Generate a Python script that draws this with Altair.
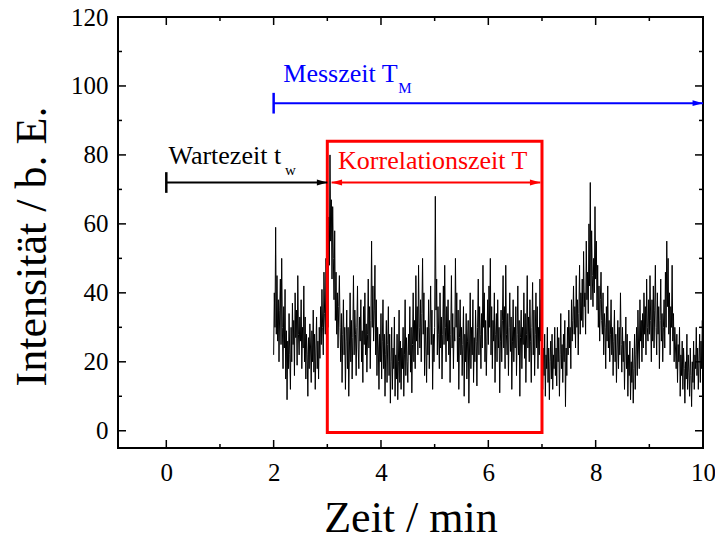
import altair as alt
import pandas as pd

# Intensity trace, sampled every 0.0125 min from 2 min to 10 min
intensity = [
    # 2.0 - 3.0 min
    22, 40, 30, 59, 28, 45, 26, 38, 20, 35,
    44, 25, 50, 30, 18, 36, 24, 41, 15, 29,
    9, 26, 18, 34, 22, 12, 30, 20, 37, 25,
    32, 16, 40, 27, 35, 19, 45, 28, 22, 33,
    26, 38, 18, 30, 24, 42, 20, 33, 15, 28,
    22, 10, 27, 18, 31, 24, 14, 29, 20, 35,
    17, 28, 12, 24, 33, 18, 26, 15, 30, 21,
    36, 25, 41, 30, 22, 46, 34, 28, 50, 38,
    # 3.0 - 4.0 min
    45, 30, 62, 48, 80, 55, 67, 44, 65, 50,
    38, 58, 32, 46, 28, 40, 24, 36, 45, 30,
    20, 34, 14, 28, 38, 22, 30, 12, 26, 35,
    18, 30, 10, 24, 40, 20, 32, 15, 27, 45,
    22, 35, 28, 16, 30, 42, 24, 18, 33, 26,
    38, 20, 29, 14, 36, 25, 40, 22, 31, 17,
    28, 44, 24, 36, 18, 32, 55, 30, 42, 26,
    35, 48, 22, 38, 16, 30, 24, 12, 28, 20,
    # 4.0 - 5.0 min
    34, 15, 26, 38, 18, 28, 10, 22, 32, 14,
    25, 36, 16, 28, 8, 20, 30, 12, 24, 18,
    33, 10, 22, 15, 28, 9, 20, 35, 14, 26,
    12, 24, 18, 30, 10, 22, 38, 16, 27, 20,
    14, 28, 22, 36, 17, 30, 11, 25, 40, 20,
    32, 18, 45, 26, 36, 22, 48, 30, 24, 38,
    20, 34, 50, 28, 40, 16, 32, 24, 14, 30,
    22, 38, 18, 30, 42, 25, 35, 12, 28, 20,
    # 5.0 - 6.0 min
    30, 68, 35, 44, 22, 36, 28, 18, 40, 24,
    33, 15, 28, 42, 25, 48, 30, 20, 36, 26,
    38, 22, 32, 14, 28, 45, 24, 34, 18, 30,
    26, 50, 30, 40, 20, 35, 12, 27, 38, 22,
    30, 16, 25, 36, 10, 28, 20, 34, 15, 26,
    32, 8, 24, 40, 18, 30, 22, 38, 14, 27,
    20, 35, 26, 13, 30, 44, 22, 36, 28, 18,
    34, 24, 48, 30, 40, 20, 32, 16, 26, 38,
    # 6.0 - 7.0 min
    25, 42, 30, 50, 22, 36, 18, 32, 26, 40,
    14, 28, 34, 20, 38, 24, 30, 11, 26, 35,
    20, 32, 45, 24, 36, 18, 48, 28, 22, 34,
    16, 30, 40, 23, 33, 12, 26, 38, 20, 30,
    24, 36, 16, 28, 42, 22, 32, 10, 27, 35,
    18, 30, 25, 40, 21, 34, 14, 28, 45, 24,
    33, 20, 38, 26, 14, 30, 43, 22, 35, 16,
    28, 40, 24, 36, 18, 30, 22, 44, 26, 38,
    # 7.0 - 8.0 min
    20, 12, 24, 16, 28, 10, 22, 18, 30, 14,
    24, 9, 20, 26, 15, 28, 12, 22, 18, 30,
    16, 24, 13, 30, 20, 27, 10, 22, 34, 18,
    25, 14, 28, 20, 32, 7, 24, 16, 30, 22,
    35, 24, 30, 18, 38, 26, 32, 42, 28, 36,
    24, 45, 30, 38, 22, 34, 48, 28, 40, 32,
    44, 30, 52, 36, 40, 28, 55, 38, 46, 34,
    60, 42, 72, 38, 58, 45, 36, 50, 40, 65,
    # 8.0 - 9.0 min
    44, 55, 35, 48, 30, 42, 26, 38, 46, 32,
    28, 40, 22, 34, 30, 18, 36, 26, 42, 24,
    32, 20, 28, 38, 22, 30, 16, 26, 35, 20,
    28, 14, 24, 32, 18, 30, 22, 40, 25, 17,
    30, 20, 26, 12, 24, 33, 18, 28, 10, 22,
    16, 26, 9, 20, 14, 24, 8, 18, 28, 12,
    22, 30, 16, 35, 24, 18, 38, 26, 32, 20,
    34, 24, 40, 28, 36, 22, 44, 30, 26, 38,
    # 9.0 - 10.0 min
    28, 45, 32, 20, 38, 26, 42, 24, 35, 48,
    30, 22, 40, 28, 36, 18, 32, 44, 26, 34,
    20, 30, 38, 24, 46, 30, 55, 36, 50, 28,
    40, 22, 36, 30, 48, 26, 34, 20, 30, 24,
    18, 28, 14, 25, 20, 30, 10, 22, 16, 26,
    12, 24, 18, 8, 20, 15, 28, 12, 22, 17,
    10, 24, 16, 7, 20, 14, 26, 12, 22, 18,
    30, 16, 24, 12, 20, 28, 14, 26, 18, 32, 20,
]
t_start = 2.0
t_step = 0.0125

x_ticks_major = [0, 2, 4, 6, 8, 10]
x_ticks_minor = [1, 3, 5, 7, 9]
y_ticks_major = [0, 20, 40, 60, 80, 100, 120]
y_ticks_minor = [10, 30, 50, 70, 90, 110]

# annotation geometry (data units)
wait_span = [0, 3]          # Wartezeit t_w
wait_y = 72
meas_span = [2, 10]         # Messzeit T_M
meas_y = 95
corr_span = [3.08, 6.97]    # Korrelationszeit T arrow
corr_box = [3, 7, -0.5, 84]  # x1, x2, y1, y2

W, H = 585, 431
FONT = "Liberation Serif, Times New Roman, serif"
MAJ, MIN = 8, 4

df = pd.DataFrame({
    "t": [t_start + i * t_step for i in range(len(intensity))],
    "I": intensity,
})

xs = alt.Scale(domain=[-0.9, 10], nice=False, zero=False)
ys = alt.Scale(domain=[-5, 120], nice=False, zero=False)

x_axis = alt.Axis(
    values=x_ticks_major, ticks=False, domain=False, grid=False,
    labelFont=FONT, labelFontSize=25, labelColor="black", labelPadding=12,
    labelFlush=False,
    title="Zeit / min", titleFont=FONT, titleFontSize=44, titleFontWeight="normal",
    titleColor="black", titleY=83, titleBaseline="alphabetic",
)
y_axis = alt.Axis(
    values=y_ticks_major, ticks=False, domain=False, grid=False,
    labelFont=FONT, labelFontSize=25, labelColor="black", labelPadding=10,
    labelFlush=False,
    title="Intensität / b. E.", titleFont=FONT, titleFontSize=44,
    titleFontWeight="normal", titleColor="black", titleAngle=270,
    titleX=-73, titleY=229, titleBaseline="alphabetic", titleAlign="center",
)

trace = alt.Chart(df).mark_line(color="black", strokeWidth=1, clip=True).encode(
    x=alt.X("t:Q", scale=xs, axis=x_axis),
    y=alt.Y("I:Q", scale=ys, axis=y_axis),
)

# inward ticks on all four sides
def xticks(vals, length):
    d = pd.DataFrame({"v": vals})
    bottom = alt.Chart(d).mark_rule(color="black", strokeWidth=1.5).encode(
        x=alt.X("v:Q", scale=xs), y=alt.value(H), y2=alt.value(H - length))
    top = alt.Chart(d).mark_rule(color="black", strokeWidth=1.5).encode(
        x=alt.X("v:Q", scale=xs), y=alt.value(0), y2=alt.value(length))
    return bottom + top

def yticks(vals, length):
    d = pd.DataFrame({"v": vals})
    left = alt.Chart(d).mark_rule(color="black", strokeWidth=1.5).encode(
        y=alt.Y("v:Q", scale=ys), x=alt.value(0), x2=alt.value(length))
    right = alt.Chart(d).mark_rule(color="black", strokeWidth=1.5).encode(
        y=alt.Y("v:Q", scale=ys), x=alt.value(W), x2=alt.value(W - length))
    return left + right

ticks = (xticks(x_ticks_major, MAJ) + xticks(x_ticks_minor, MIN)
         + yticks(y_ticks_major, MAJ) + yticks(y_ticks_minor, MIN))

box_df = pd.DataFrame({"x1": [corr_box[0]], "x2": [corr_box[1]],
                       "y1": [corr_box[2]], "y2": [corr_box[3]]})
box = alt.Chart(box_df).mark_rect(fillOpacity=0, stroke="#ff0000", strokeWidth=3).encode(
    x=alt.X("x1:Q", scale=xs), x2="x2:Q",
    y=alt.Y("y1:Q", scale=ys), y2="y2:Q",
)

arrows_df = pd.DataFrame({
    "x1": [wait_span[0], meas_span[0], corr_span[0]],
    "x2": [wait_span[1], meas_span[1], corr_span[1]],
    "y": [wait_y, meas_y, wait_y],
    "c": ["black", "#0000ff", "#ff0000"],
})
shafts = alt.Chart(arrows_df).mark_rule(strokeWidth=2).encode(
    x=alt.X("x1:Q", scale=xs), x2="x2:Q",
    y=alt.Y("y:Q", scale=ys),
    color=alt.Color("c:N", scale=None),
)

bars_df = pd.DataFrame({
    "x": [wait_span[0], meas_span[0]],
    "y1": [wait_y - 3, meas_y - 3],
    "y2": [wait_y + 3, meas_y + 3],
    "c": ["black", "#0000ff"],
})
bars = alt.Chart(bars_df).mark_rule(strokeWidth=2.5).encode(
    x=alt.X("x:Q", scale=xs),
    y=alt.Y("y1:Q", scale=ys), y2="y2:Q",
    color=alt.Color("c:N", scale=None),
)

RIGHT_HEAD = "M-1,-0.55L1,0L-1,0.55Z"
LEFT_HEAD = "M1,-0.55L-1,0L1,0.55Z"
heads_r_df = pd.DataFrame({
    "x": [wait_span[1], meas_span[1], corr_span[1]],
    "y": [wait_y, meas_y, wait_y],
    "c": ["black", "#0000ff", "#ff0000"],
})
heads_r = alt.Chart(heads_r_df).mark_point(
    shape=RIGHT_HEAD, filled=True, size=110, opacity=1, xOffset=-5.2
).encode(
    x=alt.X("x:Q", scale=xs), y=alt.Y("y:Q", scale=ys),
    color=alt.Color("c:N", scale=None),
)
heads_l_df = pd.DataFrame({"x": [corr_span[0]], "y": [wait_y], "c": ["#ff0000"]})
heads_l = alt.Chart(heads_l_df).mark_point(
    shape=LEFT_HEAD, filled=True, size=110, opacity=1, xOffset=5.2
).encode(
    x=alt.X("x:Q", scale=xs), y=alt.Y("y:Q", scale=ys),
    color=alt.Color("c:N", scale=None),
)

labels_df = pd.DataFrame({
    "x": [0.04, 2.18, 3.2],
    "y": [77.3, 101.2, 75.8],
    "text": ["Wartezeit t", "Messzeit T", "Korrelationszeit T"],
    "c": ["black", "#0000ff", "#ff0000"],
})
labels = alt.Chart(labels_df).mark_text(
    font=FONT, fontSize=26, align="left", baseline="alphabetic"
).encode(
    x=alt.X("x:Q", scale=xs), y=alt.Y("y:Q", scale=ys),
    text="text:N", color=alt.Color("c:N", scale=None),
)
subs_df = pd.DataFrame({
    "x": [2.21, 4.32],
    "y": [74.3, 98.0],
    "text": ["w", "M"],
    "c": ["black", "#0000ff"],
})
subs = alt.Chart(subs_df).mark_text(
    font=FONT, fontSize=15, align="left", baseline="alphabetic"
).encode(
    x=alt.X("x:Q", scale=xs), y=alt.Y("y:Q", scale=ys),
    text="text:N", color=alt.Color("c:N", scale=None),
)

chart = alt.layer(
    trace, box, shafts, bars, heads_r, heads_l, labels, subs, ticks
).properties(
    width=W, height=H,
    autosize=alt.AutoSizeParams(type="none"),
    padding={"left": 118, "top": 17, "right": 12, "bottom": 92},
    background="white",
).configure(font=FONT).configure_view(stroke="black", strokeWidth=2)

chart.save("out.html", embed_options={"renderer": "svg", "actions": False})
